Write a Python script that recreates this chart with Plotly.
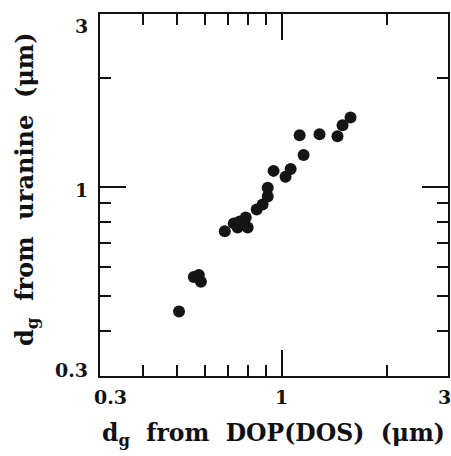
import numpy as np
import plotly.graph_objects as go

# Data
dop_dg = [0.506, 0.558, 0.577, 0.585, 0.685, 0.727, 0.746, 0.756, 0.787, 0.797,
          0.846, 0.880, 0.910, 0.910, 0.946, 1.024, 1.059, 1.124, 1.154, 1.282,
          1.444, 1.493, 1.574]
uranine_dg = [0.452, 0.563, 0.570, 0.546, 0.753, 0.792, 0.772, 0.802, 0.822, 0.772,
              0.865, 0.893, 0.939, 0.994, 1.106, 1.065, 1.120, 1.388, 1.223, 1.397,
              1.379, 1.478, 1.554]

major_ticks = [0.3, 1, 3]
major_labels = ["0.3", "1", "3"]
minor_ticks = [0.4, 0.5, 0.6, 0.7, 0.8, 0.9, 2]

x_title = "d<sub>g</sub>  from  DOP(DOS)  (μm)"
y_title = "d<sub>g</sub>  from  uranine  (μm)"

FONT = "DejaVu Serif"

fig = go.Figure()
fig.add_trace(go.Scatter(
    x=dop_dg, y=uranine_dg, mode="markers",
    marker=dict(size=12, color="#151515", line=dict(width=0)),
    showlegend=False,
))

axis_common = dict(
    type="log",
    range=[np.log10(0.3), np.log10(3)],
    showgrid=False, zeroline=False,
    showline=True, linecolor="#111", linewidth=2, mirror="allticks",
    ticks="inside", tickvals=[1], ticklen=26, tickwidth=2, tickcolor="#111",
    showticklabels=False,
    minor=dict(tickvals=minor_ticks, ticks="inside", ticklen=11,
               tickwidth=2, tickcolor="#111", showgrid=False),
)
fig.update_xaxes(**axis_common)
fig.update_yaxes(**axis_common)

annotations = []
# x tick labels
x_shifts = [10, 0, -4]
for v, t, s in zip(major_ticks, major_labels, x_shifts):
    annotations.append(dict(x=np.log10(v), y=0, xref="x", yref="paper",
                            text=t, showarrow=False, yanchor="top",
                            yshift=-8, xshift=s,
                            font=dict(family=FONT, size=19, color="#111", weight="bold")))
# y tick labels
y_shifts = [6, -3, -12]
for v, t, s in zip(major_ticks, major_labels, y_shifts):
    annotations.append(dict(x=0, y=np.log10(v), xref="paper", yref="y",
                            text=t, showarrow=False, xanchor="right",
                            xshift=-10, yshift=s,
                            font=dict(family=FONT, size=19, color="#111", weight="bold")))
# axis titles
annotations.append(dict(x=0.5, y=0, xref="paper", yref="paper", text=x_title,
                        showarrow=False, yanchor="middle", yshift=-58, xshift=-1,
                        font=dict(family=FONT, size=23.5, color="#111", weight="bold")))
annotations.append(dict(x=0, y=0.5, xref="paper", yref="paper", text=y_title,
                        showarrow=False, textangle=-90, xanchor="center",
                        xshift=-74, yshift=6,
                        font=dict(family=FONT, size=24, color="#111", weight="bold")))

fig.update_layout(
    width=451, height=456,
    margin=dict(l=100, r=1, t=14, b=80),
    paper_bgcolor="white", plot_bgcolor="white",
    annotations=annotations,
)

fig.write_html("out.html")
